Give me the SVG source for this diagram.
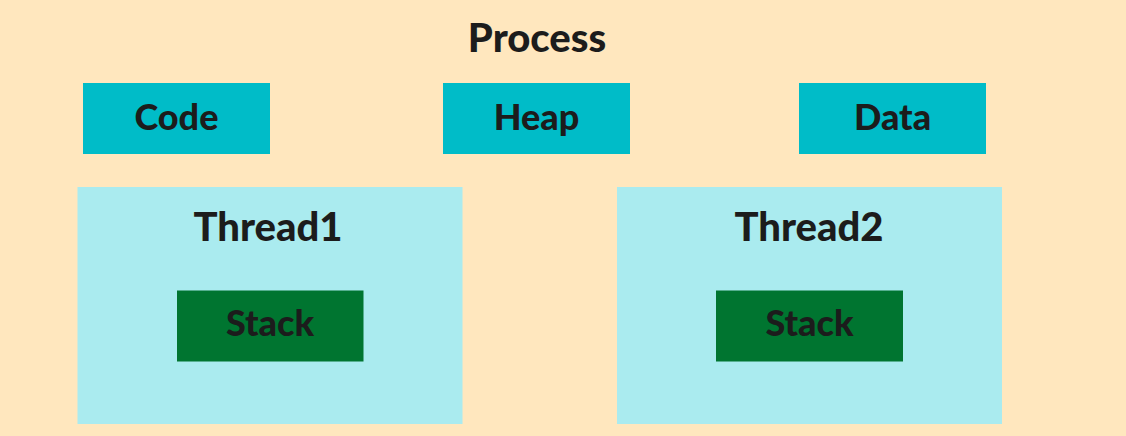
<svg xmlns="http://www.w3.org/2000/svg" width="1126" height="436" viewBox="0 0 1126 436">
  <style>
    text { font-family: "Lato", "Liberation Sans", sans-serif; font-weight: 900; fill: #1c1c1c; text-anchor: middle; }
    .seg { fill: #00BCC8; }
    .thr { fill: #AAEBEF; }
    .stk { fill: #007530; }
    .lbl { font-size: 36px; }
    .ttl { font-size: 40px; }
  </style>
  <rect x="0" y="0" width="1126" height="436" fill="#FFE7BE"/>
  <g id="process-title">
    <text x="537" y="52" style="font-size:40px">Process</text>
  </g>
  <g id="code">
    <rect class="seg" x="83" y="83" width="187" height="71"/>
    <text class="lbl" x="176.5" y="130">Code</text>
  </g>
  <g id="heap">
    <rect class="seg" x="443" y="83" width="187" height="71"/>
    <text class="lbl" x="536.5" y="130">Heap</text>
  </g>
  <g id="data">
    <rect class="seg" x="799" y="83" width="187" height="71"/>
    <text class="lbl" x="892.5" y="130">Data</text>
  </g>
  <g id="thread1">
    <rect class="thr" x="77.5" y="187" width="385" height="237"/>
    <text class="ttl" x="268" y="241">Thread1</text>
  </g>
  <g id="stack1">
    <rect class="stk" x="177" y="290.5" width="186.5" height="71"/>
    <text class="lbl" x="270" y="336">Stack</text>
  </g>
  <g id="thread2">
    <rect class="thr" x="617" y="187" width="385" height="237"/>
    <text class="ttl" x="809" y="241">Thread2</text>
  </g>
  <g id="stack2">
    <rect class="stk" x="716" y="290.5" width="187" height="71"/>
    <text class="lbl" x="809.5" y="336">Stack</text>
  </g>
  <g id="connectors"></g>
</svg>
